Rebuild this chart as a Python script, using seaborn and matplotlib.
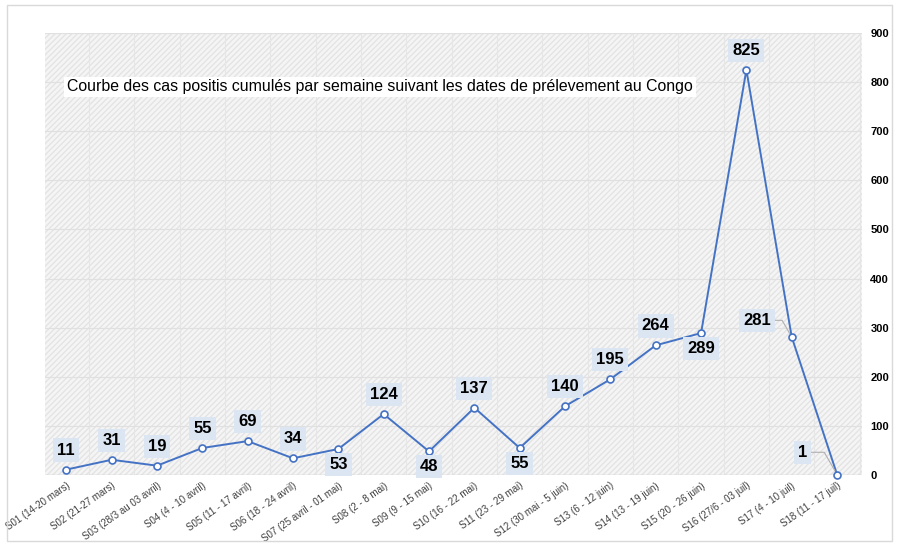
import matplotlib
matplotlib.use("Agg")
import matplotlib.pyplot as plt
import seaborn as sns
import pandas as pd
from matplotlib.patches import Rectangle

semaines = [
    "S01 (14-20 mars)", "S02 (21-27 mars)", "S03 (28/3 au 03 avril)",
    "S04 (4 - 10 avril)", "S05 (11 - 17 avril)", "S06 (18 - 24 avril)",
    "S07 (25 avril - 01 mai)", "S08 (2 - 8 mai)", "S09 (9 - 15 mai)",
    "S10 (16 - 22 mai)", "S11 (23 - 29 mai)", "S12 (30 mai - 5 juin)",
    "S13 (6 - 12 juin)", "S14 (13 - 19 juin)", "S15 (20 - 26 juin)",
    "S16 (27/6 - 03 juil)", "S17 (4 - 10 juil)", "S18 (11 - 17 juil)",
]
cas = [11, 31, 19, 55, 69, 34, 53, 124, 48, 137, 55, 140, 195, 264, 289, 825, 281, 1]
# position des étiquettes: 'h' au-dessus, 'b' en dessous, 'g' à gauche
position = ["h", "h", "h", "h", "h", "h", "b", "h", "b", "h", "b", "h",
            "h", "h", "b", "h", "g", "g"]
y_ticks = [0, 100, 200, 300, 400, 500, 600, 700, 800, 900]

df = pd.DataFrame({"semaine": semaines, "cas": cas, "x": range(len(semaines))})

sns.set_style("white")
plt.rcParams["font.family"] = ["Liberation Sans", "DejaVu Sans"]
plt.rcParams["text.color"] = "black"

fig = plt.figure(figsize=(8.98, 5.45), dpi=100)
ax = fig.add_axes([45 / 898, 1 - 475 / 545, (862 - 45) / 898, (475 - 33) / 545])

# fond hachuré
ax.set_facecolor("#f5f5f5")
ax.add_patch(Rectangle((0, 0), 1, 1, transform=ax.transAxes, facecolor="none",
                       edgecolor="#e4e4e4", hatch="//////", linewidth=0, zorder=0))
for v in range(len(semaines) + 1):
    ax.axvline(v - 0.5, color="#e6e6e6", lw=0.8, zorder=1)
for t in y_ticks:
    ax.axhline(t, color="#e0e0e0", lw=0.8, zorder=1)

sns.lineplot(data=df, x="x", y="cas", ax=ax, color="#4472c4", lw=1.4, zorder=4,
             marker="o", markersize=5, markerfacecolor="white",
             markeredgecolor="#4472c4", markeredgewidth=1.2)
ax.lines[-1].set_clip_on(False)

box = dict(boxstyle="square,pad=0.25", facecolor="#dce6f2", edgecolor="none")
for i, (v, p) in enumerate(zip(cas, position)):
    if p == "h":
        ax.annotate(str(v), (i, v), xytext=(0, 14), textcoords="offset points",
                    ha="center", va="center", fontsize=12, fontweight="bold",
                    color="black", bbox=box, zorder=5)
    elif p == "b":
        ax.annotate(str(v), (i, v), xytext=(0, -11), textcoords="offset points",
                    ha="center", va="center", fontsize=12, fontweight="bold",
                    color="black", bbox=box, zorder=5)
    else:
        dy = 12 if v > 100 else 16
        ax.annotate(str(v), (i, v), xytext=(-25, dy), textcoords="offset points",
                    ha="center", va="center", fontsize=12, fontweight="bold",
                    color="black", bbox=box, zorder=5,
                    arrowprops=dict(arrowstyle="-", color="#b0b0b0", lw=0.8,
                                    shrinkA=0, shrinkB=3,
                                    connectionstyle="angle,angleA=0,angleB=120,rad=0"))

ax.text(0.027, 0.878, "Courbe des cas positis cumulés par semaine suivant les dates de prélevement au Congo",
        transform=ax.transAxes, fontsize=11.4, ha="left", va="center", color="black",
        bbox=dict(facecolor="white", edgecolor="none", pad=2), zorder=6)

ax.set_xlim(-0.47, 17.55)
ax.set_ylim(0, 900)
ax.set_xticks(range(len(semaines)))
ax.set_xticklabels(semaines, rotation=35, ha="right", rotation_mode="anchor",
                   fontsize=7, color="#404040")
ax.yaxis.tick_right()
ax.set_yticks(y_ticks)
ax.set_yticklabels([str(t) for t in y_ticks], fontsize=8, fontweight="bold", color="black")
ax.tick_params(axis="both", length=0)
ax.tick_params(axis="y", pad=6)
ax.tick_params(axis="x", pad=4)
ax.set_xlabel("")
ax.set_ylabel("")
for s in ax.spines.values():
    s.set_visible(False)
ax.axhline(0, color="#d0d0d0", lw=1, zorder=2)

# cadre du graphique
fig.patches.append(Rectangle((7 / 898, 4 / 545), 885 / 898, 536 / 545,
                             transform=fig.transFigure, facecolor="none",
                             edgecolor="#d9d9d9", lw=1))

fig.savefig("out.png", dpi=100)
